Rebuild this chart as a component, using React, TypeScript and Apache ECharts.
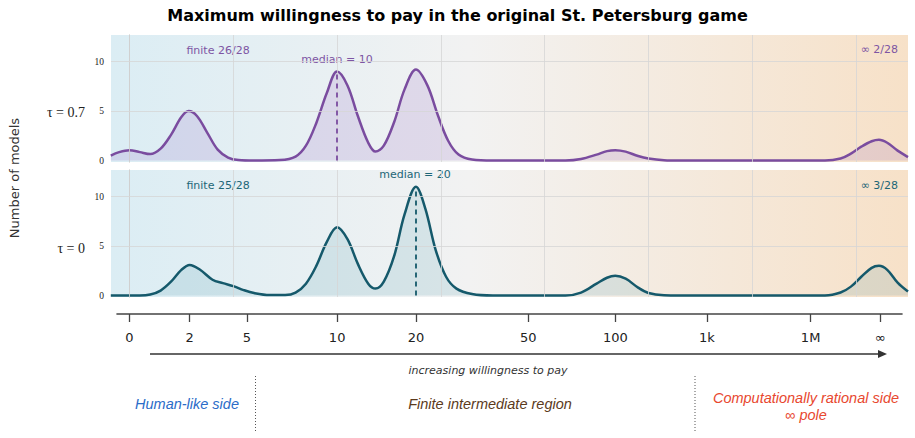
import React, { useEffect, useRef } from "react";
import * as echarts from "echarts";

// transformed x-position (t) of each tick label on the shared axis
const tickLabels = ["0", "2", "5", "10", "20", "50", "100", "1k", "1M", "∞"];
const tickPositions = [0, 0.58, 1.13, 2.0, 2.76, 3.84, 4.68, 5.56, 6.56, 7.23];

// tau = 0.7 (top panel) smoothed counts
const topX = [-0.18, -0.1, 0.0, 0.1, 0.2, 0.3, 0.4, 0.5, 0.57, 0.65, 0.75, 0.85, 0.95, 1.05, 1.2, 1.45, 1.6, 1.7, 1.8, 1.9, 2.0, 2.1, 2.2, 2.3, 2.37, 2.45, 2.55, 2.65, 2.76, 2.87, 2.97, 3.07, 3.17, 3.3, 3.5, 4.2, 4.35, 4.5, 4.6, 4.68, 4.78, 4.9, 5.0, 5.15, 5.3, 6.7, 6.85, 6.95, 7.05, 7.15, 7.22, 7.3, 7.4, 7.5];
const topY = [0.5, 0.85, 1.05, 0.85, 0.65, 1.2, 2.6, 4.4, 5.0, 4.5, 2.8, 1.1, 0.3, 0.05, 0, 0.05, 0.4, 1.5, 3.8, 6.8, 9.0, 7.6, 4.5, 1.8, 0.9, 1.5, 3.9, 7.2, 9.2, 7.6, 4.6, 2.0, 0.6, 0.1, 0, 0, 0.15, 0.6, 0.95, 1.05, 0.9, 0.45, 0.2, 0.03, 0, 0, 0.2, 0.7, 1.4, 1.95, 2.1, 1.8, 1.0, 0.35];

// tau = 0 (bottom panel) smoothed counts
const botX = [-0.18, 0.1, 0.2, 0.3, 0.4, 0.5, 0.58, 0.68, 0.8, 0.9, 1.0, 1.1, 1.2, 1.35, 1.5, 1.6, 1.7, 1.8, 1.9, 2.0, 2.1, 2.2, 2.3, 2.37, 2.45, 2.55, 2.65, 2.76, 2.85, 2.95, 3.05, 3.15, 3.3, 3.5, 4.2, 4.35, 4.5, 4.6, 4.68, 4.78, 4.9, 5.0, 5.15, 5.3, 6.7, 6.85, 6.95, 7.05, 7.15, 7.22, 7.3, 7.4, 7.5];
const botY = [0, 0, 0.1, 0.5, 1.4, 2.6, 3.1, 2.6, 1.6, 1.25, 0.95, 0.55, 0.25, 0.05, 0.05, 0.3, 1.2, 3.0, 5.4, 6.9, 5.7, 3.2, 1.2, 0.7, 1.4, 4.0, 8.2, 11.0, 8.8, 4.6, 1.9, 0.7, 0.15, 0, 0, 0.3, 1.2, 1.8, 2.0, 1.7, 0.8, 0.25, 0.02, 0, 0, 0.3, 0.9, 1.9, 2.8, 3.0, 2.6, 1.3, 0.4];

const medianTop = { x: 2.0, peak: 9.0, label: "median = 10" };
const medianBot = { x: 2.76, peak: 11.0, label: "median = 20" };

const yTicks = [0, 5, 10];
const gridT = [0, 1, 2, 3, 4, 5, 6, 7];

const PURPLE = "#7a4c9f";
const TEAL = "#15596b";
const SANS = "DejaVu Sans";

export default function App() {
  const ref = useRef<HTMLDivElement>(null);
  useEffect(() => {
    if (!ref.current) return;
    const chart = echarts.init(ref.current, null, { renderer: "svg" });
    const mkBg = () =>
      new echarts.graphic.LinearGradient(0, 0, 1, 0, [
        { offset: 0, color: "#dbedf4" },
        { offset: 0.45, color: "#f2f2f2" },
        { offset: 1, color: "#f7e1c8" },
      ]);
    const xMin = -0.178, xMax = 7.5;
    const mkX = (gi: number) => ({
      type: "value", gridIndex: gi, min: xMin, max: xMax,
      axisLine: { show: false }, axisTick: { show: false }, axisLabel: { show: false }, splitLine: { show: false },
    });
    const mkY = (gi: number) => ({
      type: "value", gridIndex: gi, min: -0.15, max: 12.7,
      axisLine: { show: true, lineStyle: { color: "#b8b8b8", width: 1 } },
      axisTick: { show: false },
      splitLine: { show: false },
      axisLabel: { customValues: yTicks, fontFamily: "Liberation Serif", fontSize: 9.5, color: "#222", margin: 7 },
    });
    const gridSeries = (gi: number) => ({
      type: "line", xAxisIndex: gi, yAxisIndex: gi, data: [], z: 1, silent: true,
      markLine: {
        silent: true, symbol: "none", animation: false, label: { show: false },
        lineStyle: { color: "#d6d6d6", width: 0.8, type: "solid" },
        data: [...gridT.map((t) => ({ xAxis: t })), { yAxis: 5 }, { yAxis: 10 }],
      },
    });
    const curve = (gi: number, xs: number[], ys: number[], color: string, fill: string, med: any) => ({
      type: "line", xAxisIndex: gi, yAxisIndex: gi, z: 3,
      data: xs.map((x, i) => [x, ys[i]]),
      smooth: 0.35, showSymbol: false,
      lineStyle: { color, width: 2.5 },
      areaStyle: { color: fill },
      markLine: {
        silent: true, symbol: "none", animation: false, label: { show: false },
        lineStyle: { color, width: 1.8, type: [5, 4] },
        data: [[{ coord: [med.x, 0] }, { coord: [med.x, med.peak] }]],
      },
    });
    const txt = (x: number, y: number, text: string, color: string, size: number, extra: any = {}) => ({
      type: "text", x, y,
      style: { text, fill: color, fontSize: size, fontFamily: SANS, align: "center", verticalAlign: "middle", ...extra },
    });
    chart.setOption({
      animation: false,
      title: {
        text: "Maximum willingness to pay in the original St. Petersburg game",
        left: "center", top: 2,
        textStyle: { fontFamily: SANS, fontWeight: "bold", fontSize: 16, color: "#000" },
      },
      grid: [
        { left: 111, right: 7, top: 35, height: 127, show: true, backgroundColor: mkBg(), borderWidth: 0 },
        { left: 111, right: 7, top: 170, height: 127, show: true, backgroundColor: mkBg(), borderWidth: 0 },
        { left: 117, right: 13, top: 300, height: 14 },
      ],
      xAxis: [
        mkX(0), mkX(1),
        {
          type: "value", gridIndex: 2, min: -0.12, max: 7.44,
          axisLine: { show: true, lineStyle: { color: "#444", width: 1.6 } },
          axisTick: { show: true, customValues: tickPositions, length: 8, lineStyle: { color: "#444", width: 1.3 } },
          axisLabel: {
            customValues: tickPositions, margin: 17, color: "#222", fontFamily: SANS, fontSize: 13,
            formatter: (v: number) => {
              let best = 0;
              tickPositions.forEach((p, i) => { if (Math.abs(p - v) < Math.abs(tickPositions[best] - v)) best = i; });
              return tickLabels[best];
            },
          },
          splitLine: { show: false },
        },
      ],
      yAxis: [mkY(0), mkY(1), { type: "value", gridIndex: 2, show: false }],
      series: [
        gridSeries(0), gridSeries(1),
        curve(0, topX, topY, PURPLE, "rgba(150,100,190,0.25)", medianTop),
        curve(1, botX, botY, TEAL, "rgba(70,150,170,0.22)", medianBot),
      ],
      graphic: [
        { ...txt(14, 178, "Number of models", "#333", 13), rotation: Math.PI / 2 },
        txt(218, 50, "finite 26/28", "#7d55a3", 11),
        txt(337, 59, medianTop.label, "#7d55a3", 11),
        txt(898, 49, "∞ 2/28", "#7d55a3", 11, { align: "right" }),
        txt(218, 185.5, "finite 25/28", "#1d6677", 11),
        txt(415, 174, medianBot.label, "#1d6677", 11),
        txt(898, 185.5, "∞ 3/28", "#1d6677", 11, { align: "right" }),
        txt(85, 112, "τ = 0.7", "#222", 14, { align: "right", fontFamily: "Liberation Serif" }),
        txt(85, 248, "τ = 0", "#222", 14, { align: "right", fontFamily: "Liberation Serif" }),
        { type: "line", shape: { x1: 150, y1: 354, x2: 880, y2: 354 }, style: { stroke: "#333", lineWidth: 1.3 } },
        { type: "polygon", shape: { points: [[878, 350], [887, 354], [878, 358]] }, style: { fill: "#333" } },
        txt(488, 370, "increasing willingness to pay", "#333", 11, { fontStyle: "italic" }),
        { type: "line", shape: { x1: 255.5, y1: 376, x2: 255.5, y2: 432 }, style: { stroke: "#555", lineWidth: 1, lineDash: [1, 2] } },
        { type: "line", shape: { x1: 695, y1: 376, x2: 695, y2: 432 }, style: { stroke: "#555", lineWidth: 1, lineDash: [1, 2] } },
        txt(187, 404, "Human-like side", "#2b6cc8", 14.5, { fontStyle: "italic", fontFamily: "Liberation Sans" }),
        txt(490, 404, "Finite intermediate region", "#5b3a1c", 14.5, { fontStyle: "italic", fontFamily: "Liberation Sans" }),
        txt(806, 398, "Computationally rational side", "#e8482f", 14.5, { fontStyle: "italic", fontFamily: "Liberation Sans" }),
        txt(806, 415, "∞ pole", "#e8482f", 14.5, { fontStyle: "italic", fontFamily: "Liberation Sans" }),
      ],
    });
    return () => chart.dispose();
  }, []);
  return <div ref={ref} style={{ position: "absolute", left: 0, top: 0, width: 915, height: 438 }} />;
}
